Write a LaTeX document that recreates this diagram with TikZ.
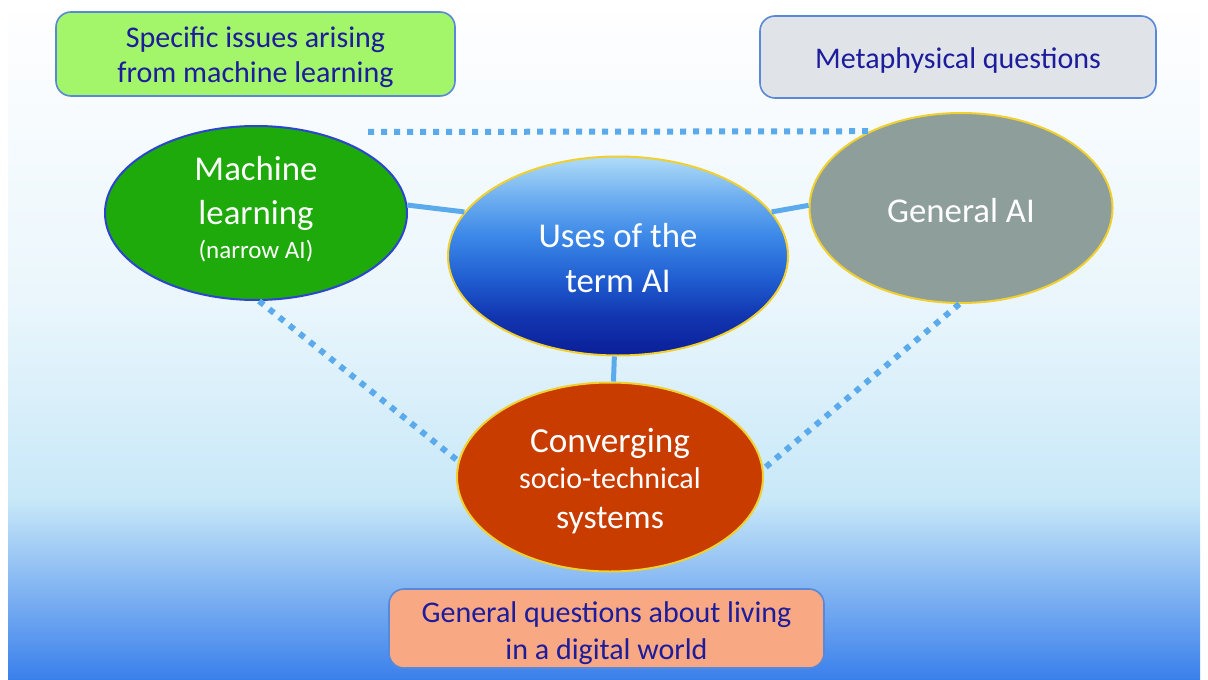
\documentclass[tikz,border=0pt]{standalone}
\usepackage{fontspec}
\setmainfont{Carlito}
\usetikzlibrary{shapes.geometric}
\definecolor{bgA}{HTML}{FEFEFF}
\definecolor{bgB}{HTML}{EAF6FC}
\definecolor{bgC}{HTML}{C8E8F8}
\definecolor{bgD}{HTML}{3A80EC}
\definecolor{navy}{HTML}{1C1C9C}
\definecolor{boxline}{HTML}{5A88D8}
\definecolor{greenbox}{HTML}{A3F56A}
\definecolor{graybox}{HTML}{E0E4E8}
\definecolor{orangebox}{HTML}{F8A882}
\definecolor{mlgreen}{HTML}{1DAA0A}
\definecolor{mlline}{HTML}{2C44D0}
\definecolor{gagray}{HTML}{8E9E9A}
\definecolor{corange}{HTML}{C83C00}
\definecolor{ringyellow}{HTML}{F0D030}
\definecolor{uaA}{HTML}{B0DCF8}
\definecolor{uaB}{HTML}{70B0F0}
\definecolor{uaC}{HTML}{3C88E8}
\definecolor{uaD}{HTML}{1F5CD0}
\definecolor{uaE}{HTML}{1236B0}
\definecolor{uaF}{HTML}{0A1E98}
\definecolor{conn}{HTML}{5AAAEC}
\pgfdeclareverticalshading{uashade}{100bp}{color(0bp)=(uaF); color(25bp)=(uaF); color(35bp)=(uaE); color(44bp)=(uaD); color(55bp)=(uaC); color(65bp)=(uaB); color(75bp)=(uaA); color(100bp)=(uaA)}
\tikzset{
  qbox/.style={draw=boxline, line width=0.8pt, rounded corners=7.5pt, text=navy, align=center, inner sep=0pt, text depth=0pt, font=\fontsize{15}{17.5}\selectfont},
  blob/.style={shape=ellipse, inner sep=0pt, line width=1pt, text=white, align=center, text depth=0pt, font=\fontsize{17.4}{22}\selectfont},
  solidconn/.style={conn, line width=2.5pt},
  dotconn/.style={conn, line width=3pt, dash pattern=on 3pt off 3.5pt}
}
\begin{document}
\begin{tikzpicture}[x=0.5pt,y=-0.5pt]
\useasboundingbox (0,0) rectangle (1208,679);
\fill[white] (0,0) rectangle (1208,679);
\shade[top color=bgA, bottom color=bgB] (8,14) rectangle (1200,301);
\shade[top color=bgB, bottom color=bgC] (8,300) rectangle (1200,501);
\shade[top color=bgC, bottom color=bgD] (8,500) rectangle (1200,679);

% ellipses
\node[blob, fill=mlgreen, draw=mlline, minimum width=151pt, minimum height=87pt, text height=45pt] (ml) at (256,213)
  {Machine\\learning\\[-5pt]{\fontsize{12.5}{14}\selectfont (narrow AI)}};
\node[blob, shading=uashade, draw=ringyellow, minimum width=170pt, minimum height=99.5pt, text height=36pt] (ua) at (618,256)
  {\fontsize{17.4}{21.5}\selectfont Uses of the\\term AI};
\node[blob, fill=gagray, draw=ringyellow, minimum width=151.5pt, minimum height=95pt, text height=14pt] (ga) at (961,208) {General AI};
\node[blob, fill=corange, draw=ringyellow, minimum width=153pt, minimum height=94.5pt, text height=51pt] (co) at (610,477)
  {{\fontsize{17.6}{20}\selectfont Converging}\\[-4pt]{\fontsize{15}{17}\selectfont socio-technical}\\[-2pt]{\fontsize{16.8}{19}\selectfont systems}};

% boxes
\node[qbox, fill=greenbox, minimum width=199.5pt, minimum height=42pt, text height=29pt] (spec) at (255.5,54) {Specific issues arising\\from machine learning};
\node[qbox, fill=graybox, minimum width=198pt, minimum height=41pt, text height=12pt] (meta) at (958,57) {Metaphysical questions};
\node[qbox, fill=orangebox, minimum width=217.5pt, minimum height=39.5pt, text height=30.5pt, font=\fontsize{15}{18.5}\selectfont] (gen) at (606.5,628.5) {General questions about living\\in a digital world};

% connectors
\coordinate (tl) at (368,132);
\draw[dotconn] (tl) -- (ga.140);
\draw[dotconn] (ml.272) -- (co.174);
\draw[dotconn] (ga.269) -- (co.3);
\draw[solidconn] (ml.3) -- (ua.164);
\draw[solidconn] (ua.16) -- (ga.179);
\draw[solidconn] (ua) -- (co);
\end{tikzpicture}
\end{document}
